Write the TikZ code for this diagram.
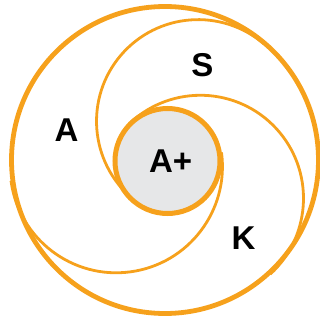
\documentclass[tikz,border=0pt]{standalone}
\usepackage{fontspec}
\setsansfont{Liberation Sans}
\usepackage{tikz}
\usetikzlibrary{positioning}

\definecolor{ringorange}{HTML}{F6A11C}
\definecolor{coregray}{HTML}{E6E7E8}

\begin{document}
\begin{tikzpicture}[
  x=1pt,y=1pt,
  font=\fontsize{33}{33}\selectfont\sffamily\bfseries,
  outerring/.style={draw=ringorange,line width=4.8pt},
  midarc/.style={draw=ringorange,line width=2.8pt},
  core/.style={draw=ringorange,fill=coregray,line width=5pt},
  lbl/.style={inner sep=0pt,text=black}
]
\useasboundingbox (-165,-162) rectangle (155,160);
\draw[outerring] (0,0) circle[radius=153.5];
\foreach \ang/\dist/\rad in {49.5/51/101.6, -47.3/52.2/103.1, 187.7/49.2/106.2}
  \draw[midarc] (\ang:\dist) ++(\ang:\rad) arc[start angle=\ang, delta angle=180, radius=\rad];
\draw[core] (2.5,-1) circle[radius=52.5];
\node[lbl] (aplus) at (5.7,-1) {A+};
\node[lbl] (alabel) at (-98.5,30) {A};
\node[lbl] (slabel) at (37.5,94.5) {S};
\node[lbl] (klabel) at (78.5,-78.5) {K};
\end{tikzpicture}
\end{document}
